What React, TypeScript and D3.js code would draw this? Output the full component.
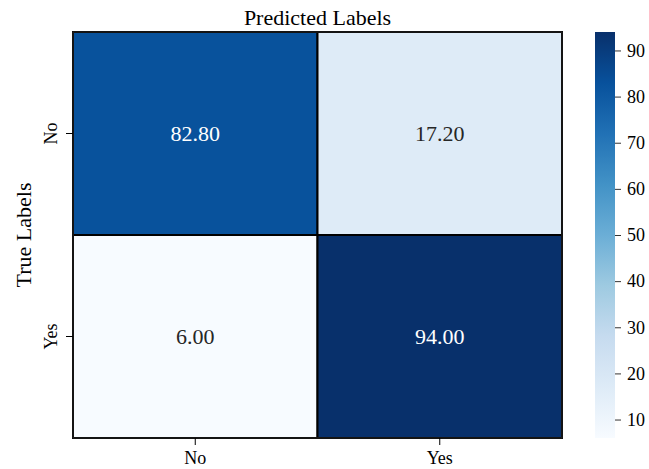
import React, { useEffect, useRef } from "react";
import * as d3 from "d3";

const predictedLabels = ["No", "Yes"];
const trueLabels = ["No", "Yes"];
// rows = true label, cols = predicted label
const rowNo = [82.8, 17.2];
const rowYes = [6.0, 94.0];
const colorbarTicks = [10, 20, 30, 40, 50, 60, 70, 80, 90];
const blues = ["#f7fbff", "#deebf7", "#c6dbef", "#9ecae1", "#6baed6", "#4292c6", "#2171b5", "#08519c", "#08306b"];

const FONT = "'Liberation Serif', 'Times New Roman', serif";

function App() {
  const svgRef = useRef<SVGSVGElement | null>(null);

  useEffect(() => {
    const svg = d3.select(svgRef.current);
    if (!svg.node()) return;
    svg.selectAll("*").remove();

    const width = 649;
    const height = 469;
    const left = 73, right = 562, top = 32, bottom = 438;

    const matrix = [rowNo, rowYes];
    const all = matrix.flat();
    const vmin = d3.min(all) as number;
    const vmax = d3.max(all) as number;

    // piecewise linear Blues like matplotlib
    const color = d3
      .scaleLinear<string>()
      .domain(blues.map((_, i) => vmin + ((vmax - vmin) * i) / (blues.length - 1)))
      .range(blues)
      .interpolate(d3.interpolateRgb);

    const x = d3.scaleBand().domain(predictedLabels).range([left, right]);
    const y = d3.scaleBand().domain(trueLabels).range([top, bottom]);

    svg.append("rect").attr("width", width).attr("height", height).attr("fill", "white");

    const cells = trueLabels.flatMap((t, r) =>
      predictedLabels.map((p, c) => ({ t, p, v: matrix[r][c] }))
    );

    const g = svg.append("g");
    g.selectAll("rect.cell")
      .data(cells)
      .enter()
      .append("rect")
      .attr("class", "cell")
      .attr("x", (d) => x(d.p)!)
      .attr("y", (d) => y(d.t)!)
      .attr("width", x.bandwidth())
      .attr("height", y.bandwidth())
      .attr("fill", (d) => color(d.v))
      .attr("stroke", "black")
      .attr("stroke-width", 2);

    g.selectAll("text.val")
      .data(cells)
      .enter()
      .append("text")
      .attr("x", (d) => x(d.p)! + x.bandwidth() / 2)
      .attr("y", (d) => y(d.t)! + y.bandwidth() / 2)
      .attr("text-anchor", "middle")
      .attr("dominant-baseline", "central")
      .attr("font-family", FONT)
      .attr("font-size", 22)
      .attr("fill", (d) => (d.v > (vmin + vmax) / 2 ? "white" : "#262626"))
      .text((d) => d.v.toFixed(2));

    // outer frame
    svg.append("rect")
      .attr("x", left).attr("y", top)
      .attr("width", right - left).attr("height", bottom - top)
      .attr("fill", "none").attr("stroke", "#222").attr("stroke-width", 1.2);

    // x axis
    const xAxis = svg.append("g")
      .attr("transform", `translate(0,${bottom})`)
      .call(d3.axisBottom(x).tickSize(7).tickPadding(6));
    xAxis.select(".domain").remove();
    xAxis.selectAll("text").attr("font-family", FONT).attr("font-size", 18).attr("fill", "black");

    // y axis
    const yAxis = svg.append("g")
      .attr("transform", `translate(${left},0)`)
      .call(d3.axisLeft(y).tickSize(7).tickPadding(6));
    yAxis.select(".domain").remove();
    yAxis.selectAll("text")
      .attr("font-family", FONT).attr("font-size", 18).attr("fill", "black")
      .attr("text-anchor", "middle")
      .attr("x", 0).attr("dy", null).attr("dominant-baseline", null)
      .attr("transform", "translate(-16,0) rotate(-90)");

    svg.append("text")
      .attr("x", (left + right) / 2).attr("y", 25)
      .attr("text-anchor", "middle")
      .attr("font-family", FONT).attr("font-size", 22)
      .text("Predicted Labels");

    svg.append("text")
      .attr("transform", `translate(31,${(top + bottom) / 2}) rotate(-90)`)
      .attr("text-anchor", "middle")
      .attr("font-family", FONT).attr("font-size", 22)
      .text("True Labels");

    // colorbar
    const cbX = 595, cbW = 20;
    const cy = d3.scaleLinear().domain([vmin, vmax]).range([bottom, top]);
    const defs = svg.append("defs");
    const grad = defs.append("linearGradient")
      .attr("id", "cbGrad").attr("x1", "0%").attr("y1", "100%").attr("x2", "0%").attr("y2", "0%");
    blues.forEach((c, i) => {
      grad.append("stop").attr("offset", `${(i / (blues.length - 1)) * 100}%`).attr("stop-color", c);
    });
    svg.append("rect")
      .attr("x", cbX).attr("y", top)
      .attr("width", cbW).attr("height", bottom - top)
      .attr("fill", "url(#cbGrad)");

    const cAxis = svg.append("g")
      .attr("transform", `translate(${cbX + cbW},0)`)
      .call(d3.axisRight(cy).tickValues(colorbarTicks).tickSize(6).tickPadding(6));
    cAxis.select(".domain").remove();
    cAxis.selectAll("line").attr("stroke", "#333");
    cAxis.selectAll("text").attr("font-family", FONT).attr("font-size", 18).attr("fill", "black");
  }, []);

  return <svg ref={svgRef} width={649} height={469} style={{ display: "block", position: "absolute", left: 0, top: 0 }} />;
}

export default App;
